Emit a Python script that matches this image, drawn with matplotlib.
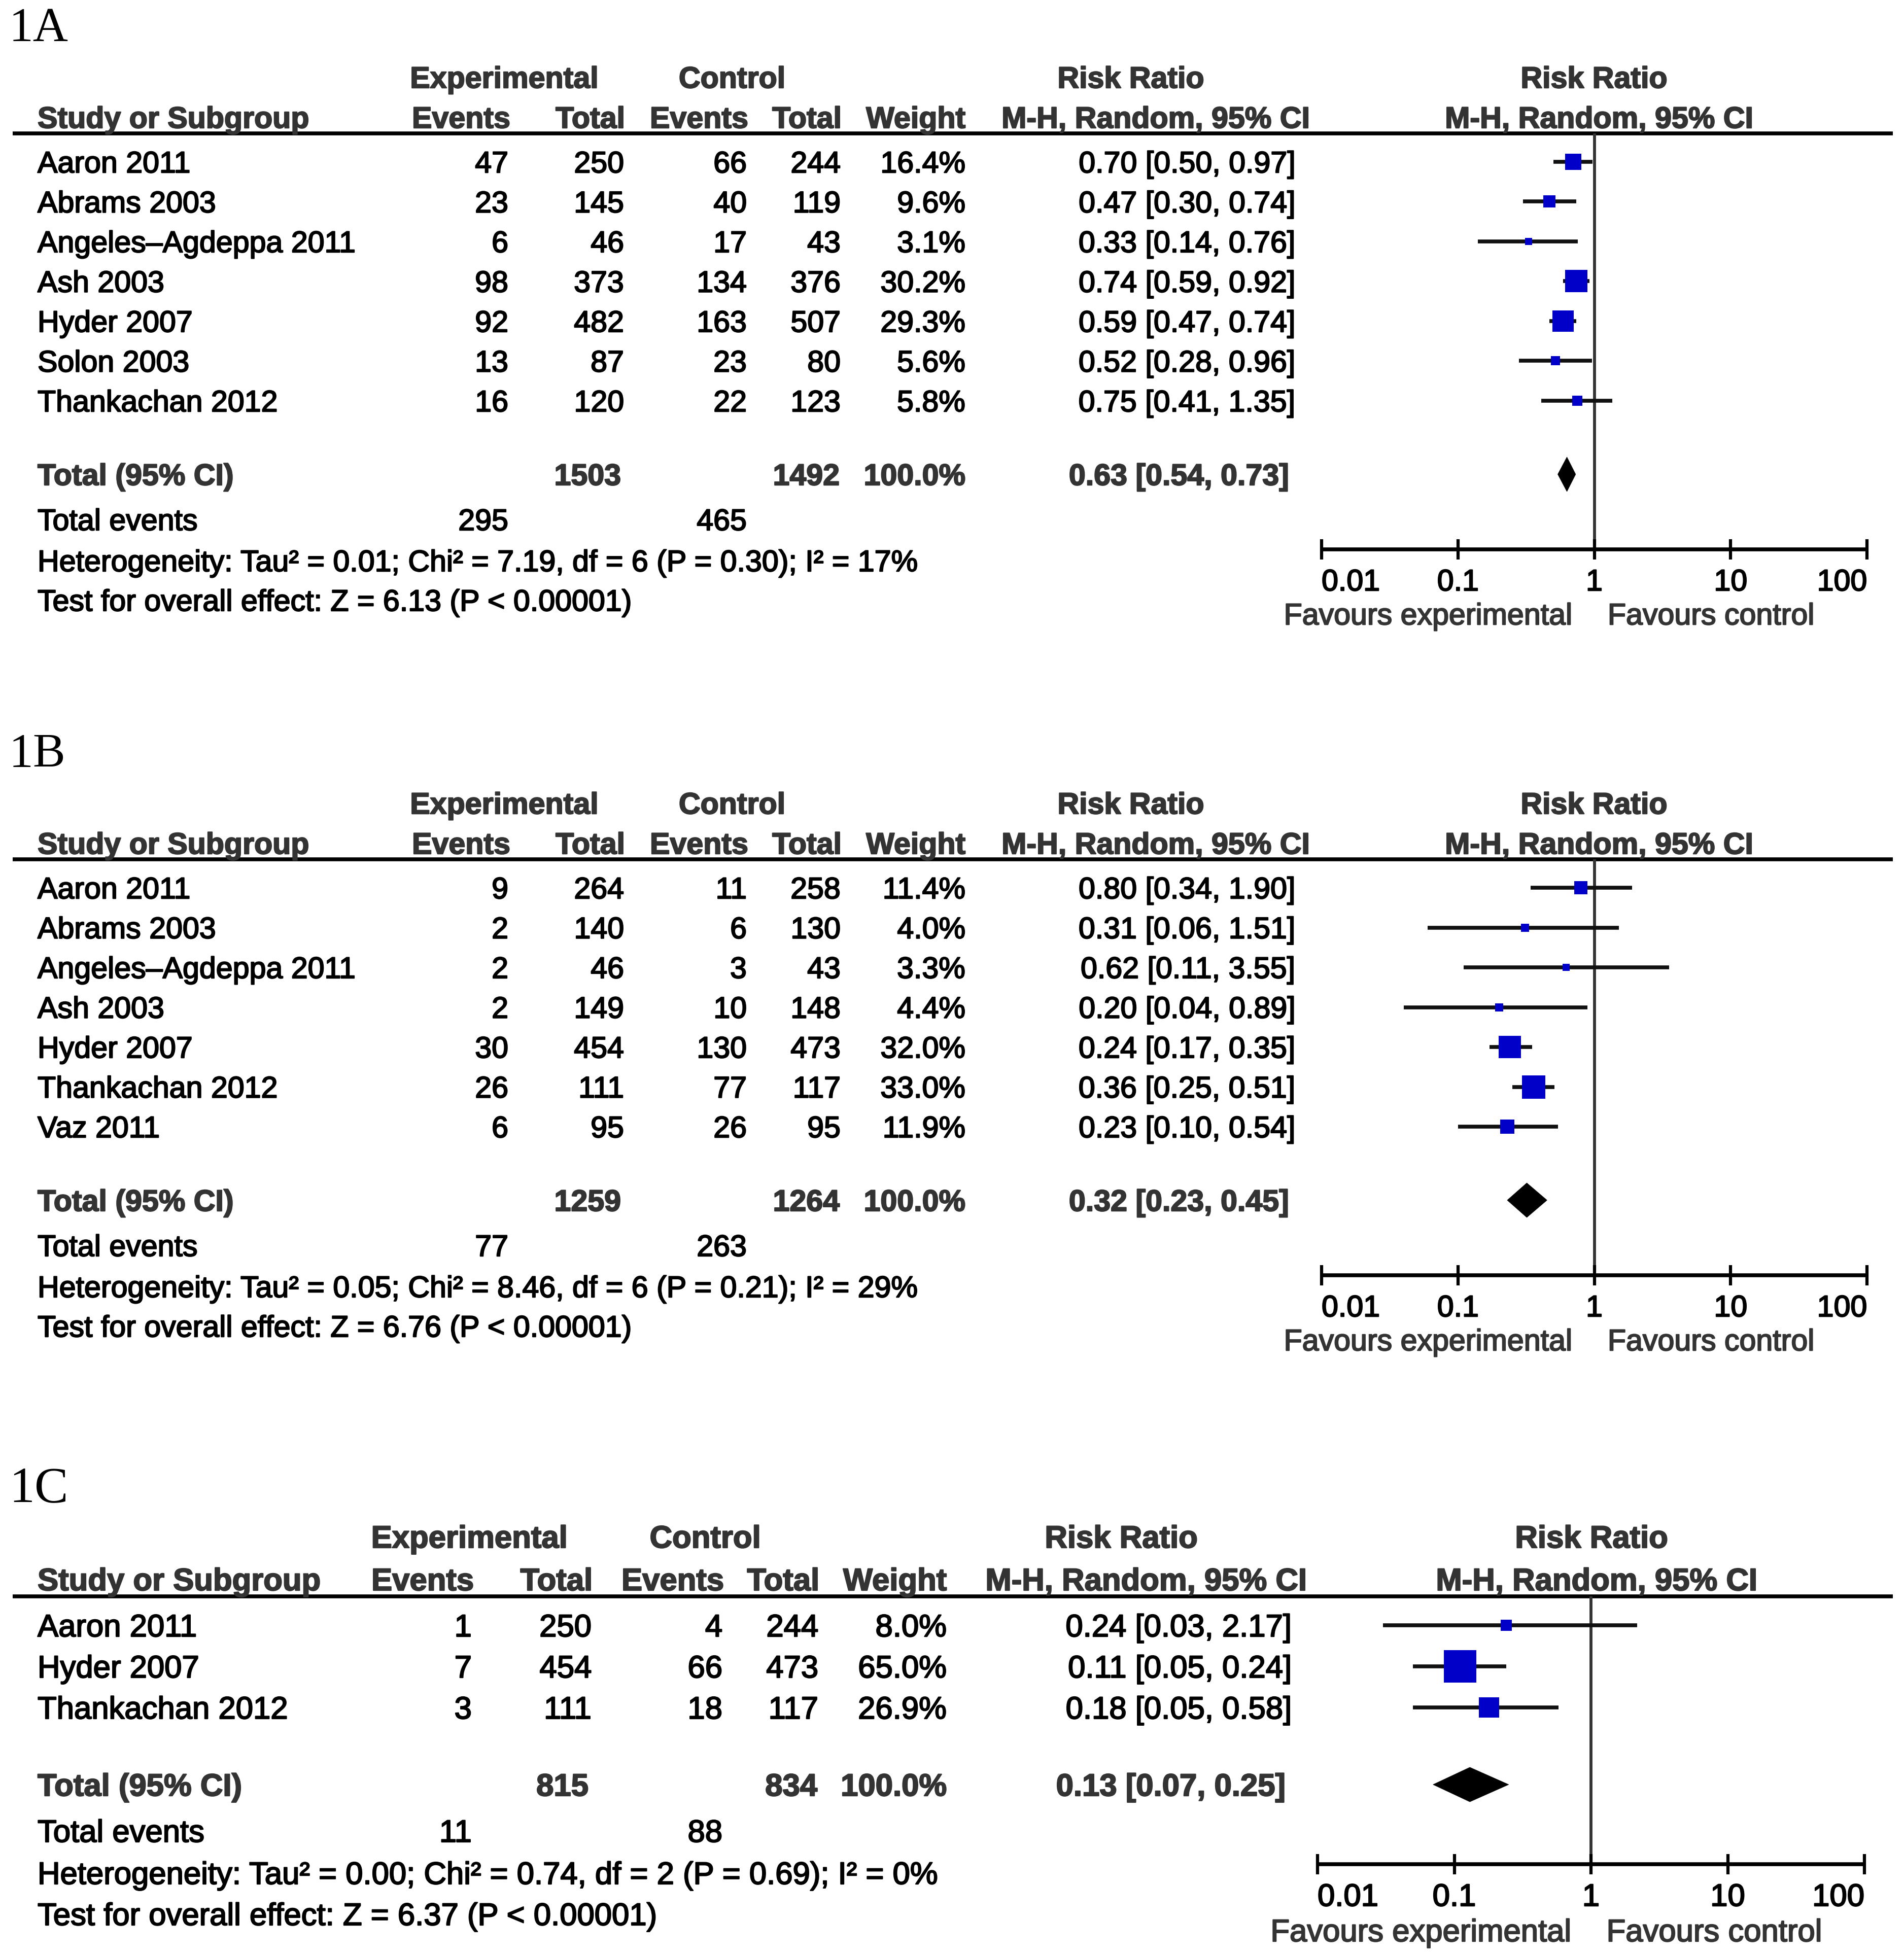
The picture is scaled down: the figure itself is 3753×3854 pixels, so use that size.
import matplotlib
matplotlib.use("Agg")
import matplotlib.pyplot as plt
import matplotlib.patheffects as pe
import numpy as np
from matplotlib.patches import Polygon
from matplotlib.ticker import NullLocator, FixedLocator

W, H, DPI = 3753, 3854, 100

# ---------------- data ----------------
A_studies = ["Aaron 2011", "Abrams 2003", "Angeles\u2013Agdeppa 2011", "Ash 2003",
             "Hyder 2007", "Solon 2003", "Thankachan 2012"]
A_exp_events = [47, 23, 6, 98, 92, 13, 16]
A_exp_total = [250, 145, 46, 373, 482, 87, 120]
A_ctl_events = [66, 40, 17, 134, 163, 23, 22]
A_ctl_total = [244, 119, 43, 376, 507, 80, 123]
A_weight = [16.4, 9.6, 3.1, 30.2, 29.3, 5.6, 5.8]
A_rr = [0.70, 0.47, 0.33, 0.74, 0.59, 0.52, 0.75]
A_lo = [0.50, 0.30, 0.14, 0.59, 0.47, 0.28, 0.41]
A_hi = [0.97, 0.74, 0.76, 0.92, 0.74, 0.96, 1.35]
A_totals = [1503, 1492]
A_total_weight = 100.0
A_total_events = [295, 465]
A_pooled = [0.63, 0.54, 0.73]
A_het = "Heterogeneity: Tau\u00b2 = 0.01; Chi\u00b2 = 7.19, df = 6 (P = 0.30); I\u00b2 = 17%"
A_test = "Test for overall effect: Z = 6.13 (P < 0.00001)"

B_studies = ["Aaron 2011", "Abrams 2003", "Angeles\u2013Agdeppa 2011", "Ash 2003",
             "Hyder 2007", "Thankachan 2012", "Vaz 2011"]
B_exp_events = [9, 2, 2, 2, 30, 26, 6]
B_exp_total = [264, 140, 46, 149, 454, 111, 95]
B_ctl_events = [11, 6, 3, 10, 130, 77, 26]
B_ctl_total = [258, 130, 43, 148, 473, 117, 95]
B_weight = [11.4, 4.0, 3.3, 4.4, 32.0, 33.0, 11.9]
B_rr = [0.80, 0.31, 0.62, 0.20, 0.24, 0.36, 0.23]
B_lo = [0.34, 0.06, 0.11, 0.04, 0.17, 0.25, 0.10]
B_hi = [1.90, 1.51, 3.55, 0.89, 0.35, 0.51, 0.54]
B_totals = [1259, 1264]
B_total_weight = 100.0
B_total_events = [77, 263]
B_pooled = [0.32, 0.23, 0.45]
B_het = "Heterogeneity: Tau\u00b2 = 0.05; Chi\u00b2 = 8.46, df = 6 (P = 0.21); I\u00b2 = 29%"
B_test = "Test for overall effect: Z = 6.76 (P < 0.00001)"

C_studies = ["Aaron 2011", "Hyder 2007", "Thankachan 2012"]
C_exp_events = [1, 7, 3]
C_exp_total = [250, 454, 111]
C_ctl_events = [4, 66, 18]
C_ctl_total = [244, 473, 117]
C_weight = [8.0, 65.0, 26.9]
C_rr = [0.24, 0.11, 0.18]
C_lo = [0.03, 0.05, 0.05]
C_hi = [2.17, 0.24, 0.58]
C_totals = [815, 834]
C_total_weight = 100.0
C_total_events = [11, 88]
C_pooled = [0.13, 0.07, 0.25]
C_het = "Heterogeneity: Tau\u00b2 = 0.00; Chi\u00b2 = 0.74, df = 2 (P = 0.69); I\u00b2 = 0%"
C_test = "Test for overall effect: Z = 6.37 (P < 0.00001)"

tick_values = [0.01, 0.1, 1, 10, 100]
tick_labels = ["0.01", "0.1", "1", "10", "100"]

# ---------------- layout (pixel positions) ----------------
def layout_AB(off):
    return dict(label_y=47 + off, h1=152 + off, h2=231 + off, line=263 + off,
                row0=319 + off, dy=78.5, total_y=935 + off, tev_y=1024 + off,
                het_y=1105 + off, test_y=1183 + off, axis_y=1083 + off, fav_dy=127,
                fx0=2605, fx1=3680, ev=1002, tot=1230, cev=1472, ctot=1657, wt=1903,
                ci=2553, exp_c=994, ctl_c=1443, rr_c=2229, mh_c=2278, frr_c=3142,
                fmh_c=3152, het_w=1733, fav_l=31, fav_r=19)

LA = layout_AB(0)
LB = layout_AB(1431)
LC = dict(label_y=2924, h1=3029, h2=3113, line=3147, row0=3204, dy=81,
          total_y=3518, tev_y=3609, het_y=3692, test_y=3773, axis_y=3675, fav_dy=130,
          fx0=2597, fx1=3675, ev=930, tot=1166, cev=1424, ctot=1613, wt=1866,
          ci=2546, exp_c=925, ctl_c=1390, rr_c=2210, mh_c=2259, frr_c=3137,
          fmh_c=3147, het_w=1772, fav_l=28, fav_r=22)

FAM = ["Liberation Sans", "DejaVu Sans"]
SERIF = ["Liberation Serif", "DejaVu Serif"]
HEAD_COL = "#333333"
BLUE = "#0000C8"

fig = plt.figure(figsize=(W / DPI, H / DPI), dpi=DPI, facecolor="white")
ax0 = fig.add_axes([0, 0, 1, 1])
ax0.set_xlim(0, W)
ax0.set_ylim(H, 0)
ax0.axis("off")
R = fig.canvas.get_renderer()


def thick(color):
    return [pe.withStroke(linewidth=1.6, foreground=color)]


def fit_size(s, target):
    t = ax0.text(0, 0, s, fontsize=40, family=FAM)
    w = t.get_window_extent(renderer=R).width
    t.remove()
    return 40.0 * target / w


def draw_panel(label, studies, ee, et, ce, ct, wt, rr, lo, hi, totals, tot_w, tev,
               pooled, het, test, L):
    fs = fit_size(het, L["het_w"])
    cap = 0.716 * fs * DPI / 72.0

    def T(x, yc, s, ha="left", bold=False, color="black", size=None, fam=FAM, stroke=True):
        sz = fs if size is None else size
        c = 0.716 * sz * DPI / 72.0
        ax0.text(x, yc + c / 2, s, ha=ha, va="baseline", fontsize=sz, family=fam,
                 fontweight="bold" if bold else "normal", color=color,
                 path_effects=thick(color) if stroke else None)

    # panel label
    T(18, L["label_y"], label, size=fs * 1.62, fam=SERIF, stroke=False)

    # headers
    T(L["exp_c"], L["h1"], "Experimental", ha="center", bold=True, color=HEAD_COL)
    T(L["ctl_c"], L["h1"], "Control", ha="center", bold=True, color=HEAD_COL)
    T(L["rr_c"], L["h1"], "Risk Ratio", ha="center", bold=True, color=HEAD_COL)
    T(L["frr_c"], L["h1"], "Risk Ratio", ha="center", bold=True, color=HEAD_COL)
    T(74, L["h2"], "Study or Subgroup", bold=True, color=HEAD_COL)
    T(L["ev"] + 4, L["h2"], "Events", ha="right", bold=True, color=HEAD_COL)
    T(L["tot"] + 2, L["h2"], "Total", ha="right", bold=True, color=HEAD_COL)
    T(L["cev"] + 3, L["h2"], "Events", ha="right", bold=True, color=HEAD_COL)
    T(L["ctot"] + 2, L["h2"], "Total", ha="right", bold=True, color=HEAD_COL)
    T(L["wt"], L["h2"], "Weight", ha="right", bold=True, color=HEAD_COL)
    T(L["mh_c"], L["h2"], "M-H, Random, 95% CI", ha="center", bold=True, color=HEAD_COL)
    T(L["fmh_c"], L["h2"], "M-H, Random, 95% CI", ha="center", bold=True, color=HEAD_COL)
    ax0.plot([25, 3731], [L["line"], L["line"]], color="black", lw=5.5,
             solid_capstyle="butt")

    # forest axes
    ax = fig.add_axes([L["fx0"] / W, 1 - L["axis_y"] / H,
                       (L["fx1"] - L["fx0"]) / W, (L["axis_y"] - L["line"]) / H])
    ax.set_xscale("log")
    ax.set_xlim(tick_values[0], tick_values[-1])
    ax.set_ylim(L["axis_y"], L["line"])
    ax.patch.set_alpha(0)
    for sp in ["top", "left", "right"]:
        ax.spines[sp].set_visible(False)
    ax.spines["bottom"].set_linewidth(5.5)
    ax.spines["bottom"].set_capstyle("butt")
    ax.yaxis.set_visible(False)
    ax.xaxis.set_major_locator(FixedLocator(tick_values))
    ax.xaxis.set_minor_locator(NullLocator())
    ax.set_xticklabels(tick_labels, fontsize=fs, family=FAM)
    ax.tick_params(axis="x", direction="inout", length=29, width=4.5, pad=13)
    tl = ax.get_xticklabels()
    tl[0].set_ha("left")
    tl[-1].set_ha("right")
    for t in tl:
        t.set_path_effects(thick("black"))
    ax.axvline(1, color="#333333", lw=4.2, zorder=1)

    rows_y = [L["row0"] + i * L["dy"] for i in range(len(studies))]
    for i, y in enumerate(rows_y):
        T(74, y, studies[i])
        T(L["ev"], y, str(ee[i]), ha="right")
        T(L["tot"], y, str(et[i]), ha="right")
        T(L["cev"], y, str(ce[i]), ha="right")
        T(L["ctot"], y, str(ct[i]), ha="right")
        T(L["wt"], y, f"{wt[i]:.1f}%", ha="right")
        T(L["ci"], y, f"{rr[i]:.2f} [{lo[i]:.2f}, {hi[i]:.2f}]", ha="right")
        ax.plot([lo[i], hi[i]], [y, y], color="#111111", lw=5.5,
                solid_capstyle="butt", zorder=2, clip_on=False)
        side = 7.9 * np.sqrt(wt[i])
        ax.plot([rr[i]], [y], marker="s", ms=side * 72.0 / DPI, color=BLUE,
                mew=0, zorder=3, clip_on=False)

    # totals
    ty = L["total_y"]
    T(74, ty, "Total (95% CI)", bold=True, color=HEAD_COL)
    T(L["tot"] - 6, ty, str(totals[0]), ha="right", bold=True, color=HEAD_COL)
    T(L["ctot"] - 2, ty, str(totals[1]), ha="right", bold=True, color=HEAD_COL)
    T(L["wt"], ty, f"{tot_w:.1f}%", ha="right", bold=True, color=HEAD_COL)
    T(L["ci"] - 12, ty, f"{pooled[0]:.2f} [{pooled[1]:.2f}, {pooled[2]:.2f}]",
      ha="right", bold=True, color=HEAD_COL)
    dh = 34
    ax.add_patch(Polygon([(pooled[1], ty), (pooled[0], ty - dh),
                          (pooled[2], ty), (pooled[0], ty + dh)],
                         closed=True, facecolor="black", edgecolor="black",
                         lw=0.5, zorder=3))

    T(74, L["tev_y"], "Total events")
    T(L["ev"], L["tev_y"], str(tev[0]), ha="right")
    T(L["cev"], L["tev_y"], str(tev[1]), ha="right")
    T(74, L["het_y"], het)
    T(74, L["test_y"], test)

    # favours labels
    off_pt = -(L["fav_dy"] + cap / 2) * 72.0 / DPI
    for s, dx, ha in [("Favours experimental", -L["fav_l"], "right"),
                      ("Favours control", L["fav_r"], "left")]:
        ax.annotate(s, xy=(1, 0), xycoords=("data", "axes fraction"),
                    xytext=(dx, off_pt), textcoords="offset points",
                    ha=ha, va="baseline", fontsize=fs, family=FAM, color=HEAD_COL,
                    annotation_clip=False, path_effects=thick(HEAD_COL))


draw_panel("1A", A_studies, A_exp_events, A_exp_total, A_ctl_events, A_ctl_total,
           A_weight, A_rr, A_lo, A_hi, A_totals, A_total_weight, A_total_events,
           A_pooled, A_het, A_test, LA)
draw_panel("1B", B_studies, B_exp_events, B_exp_total, B_ctl_events, B_ctl_total,
           B_weight, B_rr, B_lo, B_hi, B_totals, B_total_weight, B_total_events,
           B_pooled, B_het, B_test, LB)
draw_panel("1C", C_studies, C_exp_events, C_exp_total, C_ctl_events, C_ctl_total,
           C_weight, C_rr, C_lo, C_hi, C_totals, C_total_weight, C_total_events,
           C_pooled, C_het, C_test, LC)

fig.savefig("out.png", dpi=DPI, facecolor="white")
